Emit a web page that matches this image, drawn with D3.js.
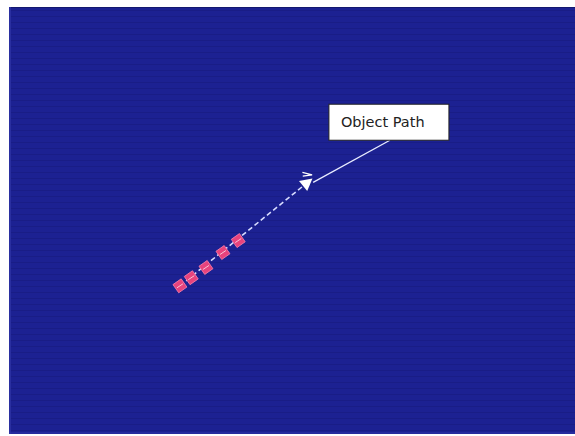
<!DOCTYPE html>
<html><head><meta charset="utf-8">
<script src="https://cdn.jsdelivr.net/npm/d3@7"></script>
<style>html,body{margin:0;padding:0;background:#fff;}svg{display:block;}</style>
</head><body>
<script>
// Data (arbitrary units 0-100 on both axes)
const pathX = [30.2, 32.2, 34.8, 37.8, 40.5];
const pathY = [34.7, 36.6, 39.0, 42.5, 45.3];
const arrowTip = [53.2, 59.4];
const labelAnchor = [67.3, 68.8];
const labelText = ["Object Path"];

const W = 575, H = 436;
const plot = {x0: 9, x1: 575, y0: 7, y1: 434};
const x = d3.scaleLinear().domain([0, 100]).range([plot.x0, plot.x1]);
const y = d3.scaleLinear().domain([0, 100]).range([plot.y1, plot.y0]);

const svg = d3.select("body").append("svg").attr("width", W).attr("height", H);
const defs = svg.append("defs");
const pat = defs.append("pattern").attr("id", "scan").attr("width", 8).attr("height", 6)
  .attr("patternUnits", "userSpaceOnUse");
pat.append("rect").attr("width", 8).attr("height", 6).attr("fill", "#1c2192");
pat.append("rect").attr("y", 4).attr("width", 8).attr("height", 1).attr("fill", "#191d86");

svg.append("rect").attr("x", plot.x0).attr("y", plot.y0)
  .attr("width", plot.x1 - plot.x0).attr("height", plot.y1 - plot.y0)
  .attr("fill", "url(#scan)");
svg.append("line").attr("x1", plot.x0).attr("x2", plot.x1).attr("y1", plot.y0 + 0.5).attr("y2", plot.y0 + 0.5)
  .attr("stroke", "#141870").attr("stroke-width", 1);
svg.append("line").attr("x1", plot.x0 + 1).attr("x2", plot.x0 + 1).attr("y1", plot.y0).attr("y2", plot.y1)
  .attr("stroke", "#2a2fa0").attr("stroke-width", 2);
svg.append("line").attr("x1", plot.x0).attr("x2", plot.x1).attr("y1", plot.y1 - 1).attr("y2", plot.y1 - 1)
  .attr("stroke", "#3036a8").attr("stroke-width", 1);

const pts = pathX.map((v, i) => [x(v), y(pathY[i])]);
const tip = [x(arrowTip[0]), y(arrowTip[1])];

// dashed path
svg.append("line").attr("x1", pts[0][0]).attr("y1", pts[0][1])
  .attr("x2", tip[0]).attr("y2", tip[1])
  .attr("stroke", "#d8dcff").attr("stroke-width", 1.6).attr("stroke-dasharray", "5,3");

// markers
svg.selectAll("rect.m").data(pts).join("rect").attr("class", "m")
  .attr("x", -5).attr("y", -5).attr("width", 10).attr("height", 10)
  .attr("transform", d => `translate(${d[0]},${d[1]}) rotate(-35)`)
  .attr("fill", "#e8437d").attr("stroke", "#f47ca8").attr("stroke-width", 0.8);
svg.selectAll("line.mk").data(pts).join("line").attr("class", "mk")
  .attr("x1", d => d[0] - 3).attr("y1", d => d[1] + 2).attr("x2", d => d[0] + 3).attr("y2", d => d[1] - 2)
  .attr("stroke", "#f9c2d6").attr("stroke-width", 1);

// arrow head
const ang = Math.atan2(tip[1] - pts[0][1], tip[0] - pts[0][0]);
const g = svg.append("g").attr("transform", `translate(${tip[0]},${tip[1]}) rotate(${ang * 180 / Math.PI})`);
g.append("path").attr("d", "M3,0 L-9,-6.5 L-9,6.5 Z").attr("fill", "#ffffff");
g.append("path").attr("d", "M-3,-8 L5,-3 L-1,-11").attr("fill", "none").attr("stroke", "#ffffff").attr("stroke-width", 1.2);

// callout
const anc = [x(labelAnchor[0]), y(labelAnchor[1])];
svg.append("line").attr("x1", tip[0] + 3).attr("y1", tip[1] + 2).attr("x2", anc[0]).attr("y2", anc[1])
  .attr("stroke", "#e8ecff").attr("stroke-width", 1.3);
const bw = 120, bh = 36;
const bx = anc[0] - 61, by = anc[1] - bh;
svg.append("rect").attr("x", bx).attr("y", by).attr("width", bw).attr("height", bh)
  .attr("fill", "#ffffff").attr("stroke", "#222").attr("stroke-width", 1);
svg.append("text").attr("x", bx + 12).attr("y", by + 23)
  .attr("font-family", "DejaVu Sans, sans-serif").attr("font-size", 14.5).attr("fill", "#222")
  .text(labelText[0]);
</script>
</body></html>
